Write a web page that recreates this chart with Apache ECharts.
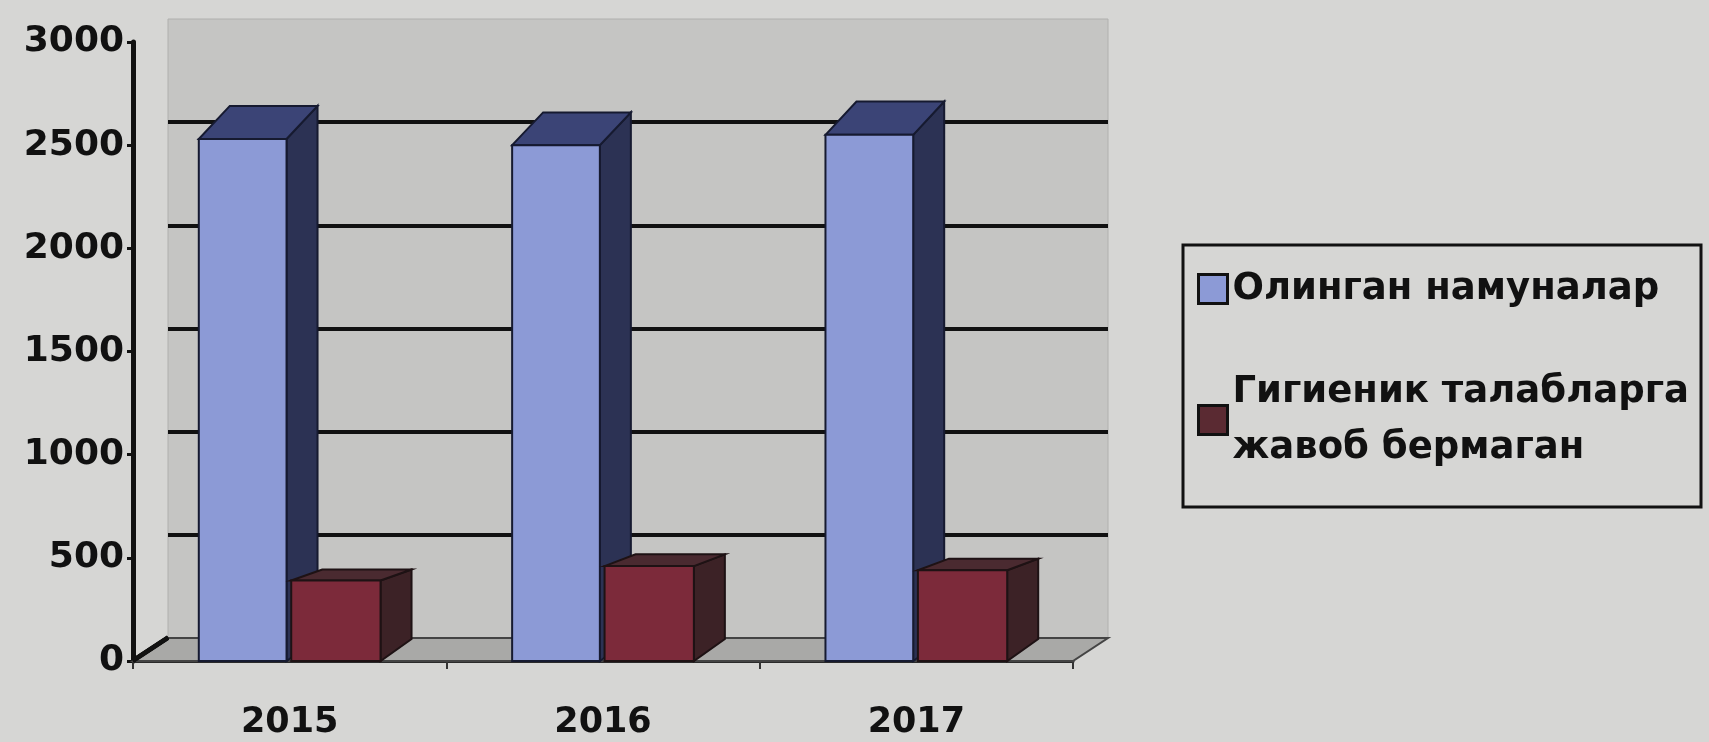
<!DOCTYPE html>
<html>
<head>
<meta charset="utf-8">
<script src="https://cdn.jsdelivr.net/npm/echarts@6/dist/echarts.min.js"></script>
<style>
html,body{margin:0;padding:0;background:#d6d6d4;}
#chart{width:1709px;height:742px;}
</style>
</head>
<body>
<div id="chart"></div>
<script>
const categories = ['2015', '2016', '2017'];
const samplesTaken = [2530, 2500, 2550];
const notCompliant = [390, 460, 440];
const yTicks = [0, 500, 1000, 1500, 2000, 2500, 3000];
const seriesNames = ['Олинган намуналар', 'Гигиеник талабларга\nжавоб бермаган'];

const DX = 35, DY = -23;       // depth offset of the back wall
const BDX = 31;                // horizontal depth of bars
const FONT = 'DejaVu Sans';

function bar3d(offL, offR, front, side, top, edge) {
  return function (params, api) {
    const idx = api.value(0), val = api.value(1);
    const p = api.coord([idx, val]);
    const b = api.coord([idx, 0]);
    const band = api.size([1, 0])[0];
    const x0 = p[0] + offL * band, x1 = p[0] + offR * band;
    const yt = p[1], yb = b[1];
    const hPx = yb - yt;
    const dyTop = -(7 + 0.05 * hPx);   // apparent roof depth grows with height (photo perspective)
    const dyBot = -22;
    return {
      type: 'group',
      children: [
        { type: 'polygon', shape: { points: [[x1, yt], [x1 + BDX, yt + dyTop], [x1 + BDX, yb + dyBot], [x1, yb]] },
          style: { fill: side, stroke: edge, lineWidth: 2 } },
        { type: 'polygon', shape: { points: [[x0, yt], [x0 + BDX, yt + dyTop], [x1 + BDX, yt + dyTop], [x1, yt]] },
          style: { fill: top, stroke: edge, lineWidth: 2 } },
        { type: 'rect', shape: { x: x0, y: yt, width: x1 - x0, height: yb - yt },
          style: { fill: front, stroke: edge, lineWidth: 2 } }
      ]
    };
  };
}

const chart = echarts.init(document.getElementById('chart'));
chart.setOption({
  backgroundColor: '#d6d6d4',
  animation: false,
  grid: [
    { left: 133, top: 42, width: 940, height: 619 },
    { left: 168, top: 19, width: 940, height: 619, show: true, backgroundColor: '#c5c5c3', borderColor: '#b0b0ae', borderWidth: 1 }
  ],
  xAxis: [
    { gridIndex: 0, type: 'category', data: categories,
      axisLine: { show: true, lineStyle: { color: '#2a2a2a', width: 3 } },
      axisTick: { show: true, length: 8, lineStyle: { color: '#333', width: 2 } },
      axisLabel: { fontFamily: FONT, fontSize: 35, fontWeight: 'bold', color: '#111', margin: 44 } },
    { gridIndex: 1, type: 'category', data: categories, show: false }
  ],
  yAxis: [
    { gridIndex: 0, type: 'value', min: 0, max: 3000, interval: 500,
      axisLine: { show: true, lineStyle: { color: '#111', width: 5 } },
      axisTick: { show: true, length: 6, lineStyle: { color: '#111', width: 3 } },
      splitLine: { show: false },
      axisLabel: { fontFamily: FONT, fontSize: 36, fontWeight: 'bold', color: '#111', margin: 9,
        formatter: function (v) { return String(v); } } },
    { gridIndex: 1, type: 'value', min: 0, max: 3000, interval: 500,
      axisLine: { show: false }, axisTick: { show: false }, axisLabel: { show: false },
      splitLine: { show: true, showMinLine: false, showMaxLine: false, lineStyle: { color: '#111', width: 4 } } }
  ],
  legend: {
    orient: 'vertical', left: 1183, top: 245,
    itemWidth: 29, itemHeight: 29, itemGap: 19,
    padding: [16, 12, 3, 14],
    borderColor: '#111', borderWidth: 3,
    textStyle: { fontFamily: FONT, fontSize: 37, fontWeight: 'bold', color: '#111', lineHeight: 56 },
    data: [
      { name: seriesNames[0], icon: 'rect', itemStyle: { color: '#8c9ad6', borderColor: '#111', borderWidth: 3 } },
      { name: seriesNames[1], icon: 'rect', itemStyle: { color: '#5a2a32', borderColor: '#111', borderWidth: 3 },
        textStyle: { padding: [56, 0, 0, 0] } }
    ]
  },
  series: [
    { type: 'custom', xAxisIndex: 0, yAxisIndex: 0, silent: true, data: [0],
      renderItem: function (params, api) {
        const cs = params.coordSys;
        const y0 = api.coord([0, 0])[1];
        return { type: 'polygon', shape: { points: [[cs.x, y0], [cs.x + cs.width, y0], [cs.x + cs.width + DX, y0 + DY], [cs.x + DX, y0 + DY]] },
          style: { fill: '#a9a9a7', stroke: '#444', lineWidth: 2 } };
      } },
    { type: 'custom', xAxisIndex: 0, yAxisIndex: 0, silent: true, data: yTicks.slice(1, -1),
      renderItem: function (params, api) {
        const cs = params.coordSys;
        const y = api.coord([0, api.value(0)])[1];
        return { type: 'line', shape: { x1: cs.x, y1: y, x2: cs.x + DX, y2: y + DY },
          style: { stroke: '#111', lineWidth: 4 } };
      } },
    { name: seriesNames[0], type: 'custom', xAxisIndex: 0, yAxisIndex: 0,
      itemStyle: { color: '#8c9ad6' },
      data: samplesTaken.map((v, i) => [i, v]),
      renderItem: bar3d(-0.29, -0.01, '#8c9ad6', '#2c3254', '#3b4476', '#161a30') },
    { name: seriesNames[1], type: 'custom', xAxisIndex: 0, yAxisIndex: 0,
      itemStyle: { color: '#5a2a32' },
      data: notCompliant.map((v, i) => [i, v]),
      renderItem: bar3d(0.005, 0.29, '#7c2a3a', '#3c2226', '#4a2a30', '#1e1214') }
  ]
});
</script>
</body>
</html>
